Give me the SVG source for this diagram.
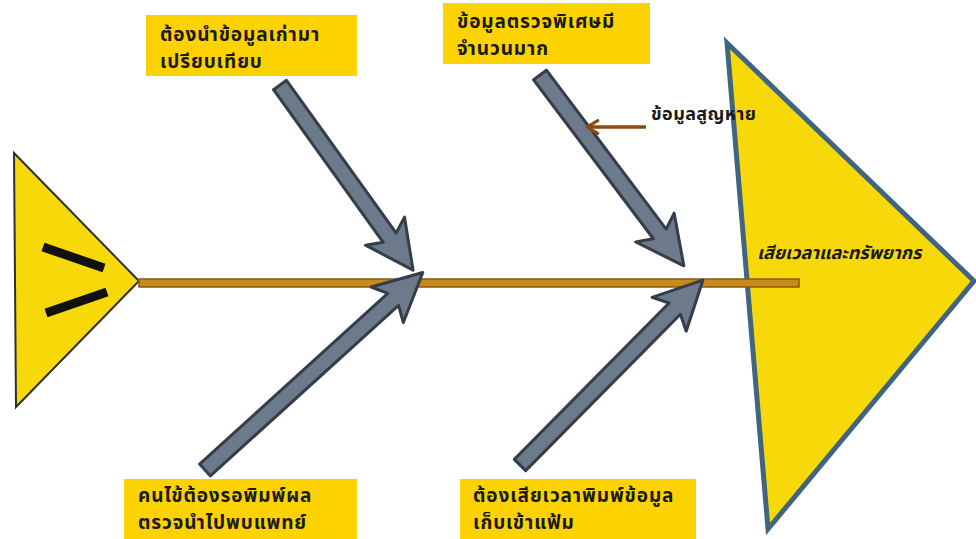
<svg xmlns="http://www.w3.org/2000/svg" width="976" height="539" viewBox="0 0 976 539">
<style>
.box{fill:#fcd200}
.t{font-family:"Noto Sans Thai","Noto Sans","DejaVu Sans",sans-serif;font-weight:bold;font-size:19px;letter-spacing:0.9px;fill:#1a1a1a}
.arrow{fill:#6c7a8c;stroke:#353d48;stroke-width:3;stroke-linejoin:round}
</style>
<defs>
<marker id="brownHead" viewBox="0 0 20 20" refX="16" refY="10" markerWidth="18" markerHeight="18" markerUnits="userSpaceOnUse" orient="auto">
<path d="M4,3 L16,10 L4,17" fill="none" stroke="#8a4a12" stroke-width="3.5" stroke-linecap="round" stroke-linejoin="round"/>
</marker>
</defs>
<rect width="976" height="539" fill="#ffffff"/>

<g id="head">
<polygon points="727,43 974,281 768,529" fill="#f7d90a" stroke="#3f6580" stroke-width="5" stroke-linejoin="miter"/>
<text class="t" x="757" y="259" style="font-size:18px;letter-spacing:0;font-style:italic">เสียเวลาและทรัพยากร</text>
</g>

<g id="tail">
<polygon points="14,153 139,281 16,407" fill="#f7d90a" stroke="#2e2e2e" stroke-width="2"/>
<line x1="43" y1="247" x2="104" y2="268" stroke="#111" stroke-width="9"/>
<line x1="46" y1="313" x2="107" y2="292" stroke="#111" stroke-width="9"/>
</g>

<g id="connectors">
<rect x="139" y="279" width="660" height="8" fill="#c98a1c" stroke="#8a5a12" stroke-width="1.5"/>
<g transform="translate(280,85) rotate(54.3)"><polygon class="arrow" points="0,-8 188,-8 180,-24 228,0 180,24 188,8 0,8"/></g>
<g transform="translate(205,470) rotate(-42.2)"><polygon class="arrow" points="0,-8 254,-8 246,-24 294,0 246,24 254,8 0,8"/></g>
<g transform="translate(540,75) rotate(53)"><polygon class="arrow" points="0,-8 199,-8 191,-24 239,0 191,24 199,8 0,8"/></g>
<g transform="translate(520,465) rotate(-45.3)"><polygon class="arrow" points="0,-8 220,-8 212,-24 260,0 212,24 220,8 0,8"/></g>
<line x1="646" y1="127" x2="587" y2="127" stroke="#8a4a12" stroke-width="3.5" marker-end="url(#brownHead)"/>
</g>

<g id="lost">
<text class="t" x="651" y="120" style="font-size:18px;letter-spacing:0.4px">ข้อมูลสูญหาย</text>
</g>

<g id="cause1">
<rect class="box" x="146" y="15" width="211" height="61"/>
<text class="t" x="160" y="41">ต้องนำข้อมูลเก่ามา</text>
<text class="t" x="160" y="68">เปรียบเทียบ</text>
</g>

<g id="cause2">
<rect class="box" x="443" y="3" width="207" height="61"/>
<text class="t" x="457" y="28">ข้อมูลตรวจพิเศษมี</text>
<text class="t" x="457" y="55">จำนวนมาก</text>
</g>

<g id="cause3">
<rect class="box" x="124" y="479" width="233" height="60"/>
<text class="t" x="138" y="502">คนไข้ต้องรอพิมพ์ผล</text>
<text class="t" x="138" y="529">ตรวจนำไปพบแพทย์</text>
</g>

<g id="cause4">
<rect class="box" x="460" y="479" width="236" height="60"/>
<text class="t" x="473" y="502">ต้องเสียเวลาพิมพ์ข้อมูล</text>
<text class="t" x="473" y="529">เก็บเข้าแฟ้ม</text>
</g>
</svg>
